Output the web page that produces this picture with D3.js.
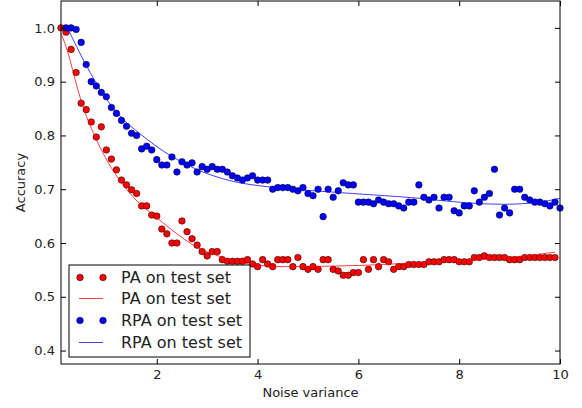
<!DOCTYPE html>
<html>
<head>
<meta charset="utf-8">
<script src="https://cdn.jsdelivr.net/npm/d3@7"></script>
<style>
  body { margin: 0; background: #fff; }
  text { font-family: "DejaVu Sans", sans-serif; }
</style>
</head>
<body>
<svg id="chart"></svg>
<script>
// noise variance values (x) for the measured points
const noiseX = [0.1, 0.2, 0.3, 0.4, 0.5, 0.6, 0.7, 0.8, 0.9, 1.0,
  1.1, 1.2, 1.3, 1.4, 1.5, 1.6, 1.7, 1.8, 1.9, 2.0,
  2.1, 2.2, 2.3, 2.4, 2.5, 2.6, 2.7, 2.8, 2.9, 3.0,
  3.1, 3.2, 3.3, 3.4, 3.5, 3.6, 3.7, 3.8, 3.9, 4.0,
  4.1, 4.2, 4.3, 4.4, 4.5, 4.6, 4.7, 4.8, 4.9, 5.0,
  5.1, 5.2, 5.3, 5.4, 5.5, 5.6, 5.7, 5.8, 5.9, 6.0,
  6.1, 6.2, 6.3, 6.4, 6.5, 6.6, 6.7, 6.8, 6.9, 7.0,
  7.1, 7.2, 7.3, 7.4, 7.5, 7.6, 7.7, 7.8, 7.9, 8.0,
  8.1, 8.2, 8.3, 8.4, 8.5, 8.6, 8.7, 8.8, 8.9, 9.0,
  9.1, 9.2, 9.3, 9.4, 9.5, 9.6, 9.7, 9.8, 9.9, 10.0];

// PA accuracy (x = 0.1 .. 9.9)
const paAcc = [1.0, 0.992, 0.96, 0.917, 0.86, 0.848, 0.825, 0.797, 0.816, 0.773,
  0.756, 0.736, 0.717, 0.708, 0.699, 0.692, 0.669, 0.669, 0.652, 0.65,
  0.626, 0.617, 0.6, 0.6, 0.641, 0.621, 0.608, 0.596, 0.584, 0.576,
  0.584, 0.584, 0.569, 0.566, 0.566, 0.566, 0.566, 0.569, 0.561, 0.556,
  0.569, 0.561, 0.556, 0.569, 0.569, 0.569, 0.556, 0.573, 0.556, 0.551,
  0.556, 0.551, 0.569, 0.569, 0.551, 0.548, 0.54, 0.54, 0.545, 0.545,
  0.569, 0.551, 0.569, 0.556, 0.569, 0.565, 0.551, 0.556, 0.556, 0.56,
  0.56, 0.56, 0.56, 0.565, 0.565, 0.565, 0.569, 0.569, 0.569, 0.565,
  0.565, 0.565, 0.573, 0.573, 0.576, 0.573, 0.573, 0.573, 0.573, 0.569,
  0.569, 0.569, 0.573, 0.573, 0.573, 0.573, 0.573, 0.573, 0.573];

// RPA accuracy (x = 0.2 .. 10.0)
const rpaAcc = [1.0, 1.0, 0.997, 0.973, 0.932, 0.9, 0.892, 0.88, 0.872,
  0.852, 0.841, 0.828, 0.817, 0.804, 0.8, 0.775, 0.78, 0.773, 0.755,
  0.745, 0.745, 0.76, 0.732, 0.751, 0.745, 0.749, 0.732, 0.742, 0.737,
  0.742, 0.737, 0.737, 0.732, 0.725, 0.721, 0.717, 0.721, 0.725, 0.717,
  0.717, 0.717, 0.7, 0.703, 0.703, 0.703, 0.7, 0.697, 0.703, 0.692,
  0.688, 0.7, 0.649, 0.7, 0.685, 0.697, 0.712, 0.708, 0.708, 0.676,
  0.676, 0.676, 0.673, 0.68, 0.676, 0.673, 0.673, 0.669, 0.665, 0.676,
  0.676, 0.708, 0.685, 0.68, 0.685, 0.665, 0.685, 0.685, 0.66, 0.656,
  0.669, 0.669, 0.697, 0.676, 0.685, 0.692, 0.737, 0.652, 0.665, 0.656,
  0.7, 0.7, 0.685, 0.68, 0.676, 0.676, 0.673, 0.669, 0.676, 0.665];

// fitted curves
const paFitX = [0.1, 0.245, 0.377, 0.51, 0.77, 1.04, 1.3, 1.63, 2.0, 2.46, 2.8, 3.25, 3.5, 4.0, 4.5, 5.5, 6.5, 7.1, 8.4, 9.2, 9.9];
const paFitY = [0.99, 0.952, 0.905, 0.861, 0.799, 0.749, 0.712, 0.676, 0.647, 0.613, 0.592, 0.575, 0.567, 0.559, 0.556, 0.557, 0.56, 0.563, 0.569, 0.575, 0.583];
const rpaFitX = [0.24, 0.58, 0.97, 1.3, 1.67, 2.13, 2.79, 3.45, 4.25, 5.44, 7.22, 8.1, 8.9, 9.5, 10.0];
const rpaFitY = [0.998, 0.934, 0.872, 0.833, 0.803, 0.771, 0.737, 0.716, 0.704, 0.695, 0.683, 0.675, 0.672, 0.675, 0.683];

const xTicks = [2, 4, 6, 8, 10];
const yTicks = [0.4, 0.5, 0.6, 0.7, 0.8, 0.9, 1.0];

const legendLabels = ['PA on test set', 'PA on test set', 'RPA on test set', 'RPA on test set'];

const width = 582;
const height = 408;
const margin = { top: 1, right: 22, bottom: 44, left: 61 };
const tick = 5;

const svg = d3.select('#chart').attr('width', width).attr('height', height);

const x = d3.scaleLinear().domain([0.1, 10]).range([margin.left, width - margin.right]);
const y = d3.scaleLinear().domain([0.375, 1.05]).range([height - margin.bottom, margin.top]);

const paPts = paAcc.map((v, i) => [noiseX[i], v]);
const rpaPts = rpaAcc.map((v, i) => [noiseX[i + 1], v]);
const paFit = paFitX.map((v, i) => [v, paFitY[i]]);
const rpaFit = rpaFitX.map((v, i) => [v, rpaFitY[i]]);

const line = d3.line()
  .x(d => x(d[0]))
  .y(d => y(d[1]))
  .curve(d3.curveMonotoneX);

const plot = svg.append('g');

const drawDots = (pts, color) => {
  plot.append('g')
    .selectAll('circle')
    .data(pts)
    .enter()
    .append('circle')
    .attr('cx', d => x(d[0]))
    .attr('cy', d => y(d[1]))
    .attr('r', 3.3)
    .attr('fill', color)
    .attr('stroke', '#000')
    .attr('stroke-width', 0.5);
};

const drawFit = (pts, color) => {
  plot.append('path')
    .datum(pts)
    .attr('d', line)
    .attr('fill', 'none')
    .attr('stroke', color)
    .attr('stroke-opacity', 0.75)
    .attr('stroke-width', 1);
};

drawDots(paPts, '#ff0000');
drawFit(paFit, '#ff0000');
drawDots(rpaPts, '#0000ff');
drawFit(rpaFit, '#0000ff');

// axes: ticks point inward, on all four sides
const styleAxis = (g) => {
  g.select('.domain').remove();
  g.selectAll('.tick line').attr('stroke', '#000');
  g.selectAll('.tick text')
    .attr('fill', '#222')
    .style('font-size', '13px')
    .style('font-family', '"DejaVu Sans", sans-serif');
};

svg.append('g')
  .attr('transform', 'translate(0,' + (height - margin.bottom) + ')')
  .call(d3.axisBottom(x).tickValues(xTicks).tickSizeInner(-tick).tickSizeOuter(0).tickPadding(6))
  .call(styleAxis);

svg.append('g')
  .attr('transform', 'translate(0,' + margin.top + ')')
  .call(d3.axisTop(x).tickValues(xTicks).tickSizeInner(-tick).tickSizeOuter(0).tickFormat(''))
  .call(styleAxis);

svg.append('g')
  .attr('transform', 'translate(' + margin.left + ',0)')
  .call(d3.axisLeft(y).tickValues(yTicks).tickSizeInner(-tick).tickSizeOuter(0).tickPadding(6).tickFormat(d3.format('.1f')))
  .call(styleAxis);

svg.append('g')
  .attr('transform', 'translate(' + (width - margin.right) + ',0)')
  .call(d3.axisRight(y).tickValues(yTicks).tickSizeInner(-tick).tickSizeOuter(0).tickFormat(''))
  .call(styleAxis);

// frame
svg.append('rect')
  .attr('x', margin.left)
  .attr('y', margin.top)
  .attr('width', width - margin.left - margin.right)
  .attr('height', height - margin.top - margin.bottom)
  .attr('fill', 'none')
  .attr('stroke', '#000')
  .attr('stroke-width', 1);

// axis labels
svg.append('text')
  .attr('x', (margin.left + width - margin.right) / 2)
  .attr('y', 397)
  .attr('text-anchor', 'middle')
  .style('font-size', '13px')
  .attr('fill', '#222')
  .text('Noise variance');

svg.append('text')
  .attr('transform', 'translate(25,' + (margin.top + height - margin.bottom) / 2 + ') rotate(-90)')
  .attr('text-anchor', 'middle')
  .style('font-size', '13px')
  .attr('fill', '#222')
  .text('Accuracy');

// legend
const legend = svg.append('g').attr('transform', 'translate(69,265)');
legend.append('rect')
  .attr('width', 181)
  .attr('height', 92)
  .attr('fill', '#fff')
  .attr('stroke', '#000')
  .attr('stroke-width', 1);

const rowY = [12.5, 33.5, 55.5, 77.5];
const rowColor = ['#ff0000', '#ff0000', '#0000ff', '#0000ff'];
legendLabels.forEach((label, i) => {
  const row = legend.append('g').attr('transform', 'translate(0,' + rowY[i] + ')');
  if (i % 2 === 0) {
    [11, 34].forEach(cx => {
      row.append('circle')
        .attr('cx', cx)
        .attr('cy', 0)
        .attr('r', 3.3)
        .attr('fill', rowColor[i])
        .attr('stroke', '#000')
        .attr('stroke-width', 0.5);
    });
  } else {
    row.append('line')
      .attr('x1', 10)
      .attr('x2', 34)
      .attr('stroke', rowColor[i])
      .attr('stroke-opacity', 0.75)
      .attr('stroke-width', 1);
  }
  row.append('text')
    .attr('x', 52)
    .attr('y', 5.5)
    .style('font-size', '16px')
    .attr('fill', '#222')
    .text(label);
});
</script>
</body>
</html>
